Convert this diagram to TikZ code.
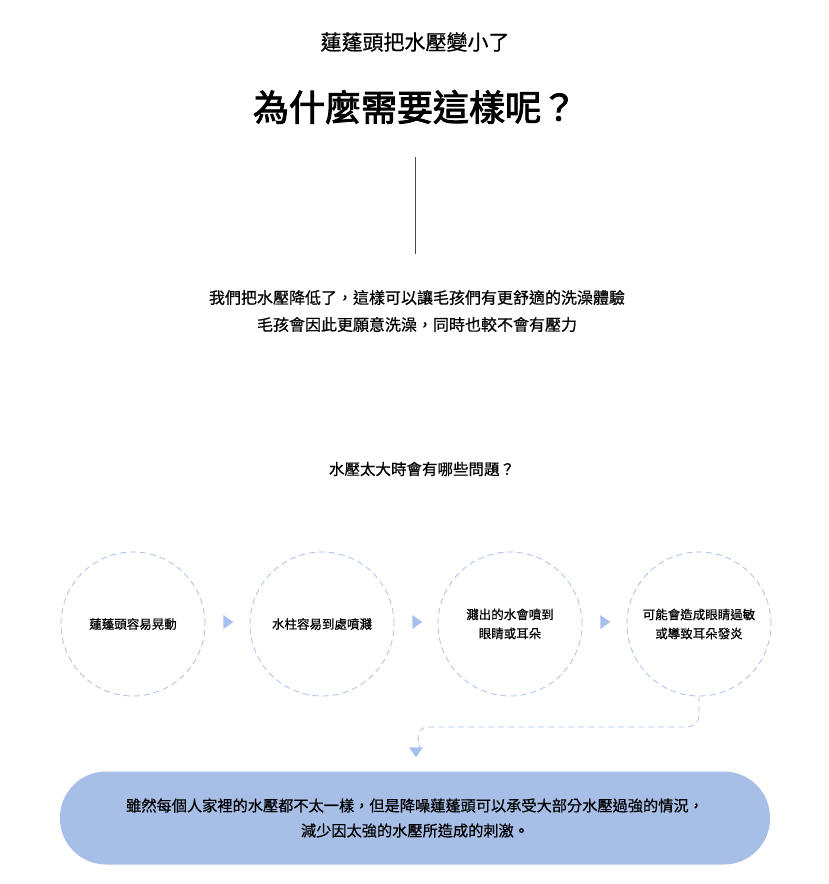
\documentclass[tikz,border=0pt]{standalone}
\usepackage{fontspec}
\setmainfont{Noto Sans CJK TC}[FakeBold=0.6]
\newfontfamily\headfont{Noto Sans CJK TC}[FakeBold=2.5]
\usetikzlibrary{shapes.geometric}
\definecolor{lineblue}{HTML}{A9C0EC}
\definecolor{pillblue}{HTML}{A7BFE7}
\begin{document}
\begin{tikzpicture}[x=1pt,y=-1pt,
  every node/.style={align=center, text=black},
  step circle/.style={circle, draw=lineblue, dash pattern=on 6pt off 4pt, line width=0.8pt, minimum size=144pt, font=\fontsize{12.5}{19}\selectfont},
  tri/.style={isosceles triangle, fill=lineblue, inner sep=0pt, minimum width=12pt, minimum height=10pt, isosceles triangle apex angle=70}]

        \useasboundingbox (0,0) rectangle (829,884);

        \node[font=\fontsize{21}{24}\selectfont] (title) at (415,42) {蓮蓬頭把水壓變小了};
        \node[font=\headfont\fontsize{36}{40}\selectfont] (head) at (415,107) {為什麼需要這樣呢？};
        \draw[gray!60!black, line width=1pt] (415,157) -- (415,254);
        \node[font=\fontsize{16}{27}\selectfont] (intro) at (417,311) {我們把水壓降低了，這樣可以讓毛孩們有更舒適的洗澡體驗\\ 毛孩會因此更願意洗澡，同時也較不會有壓力};
        \node[font=\fontsize{15.5}{18}\selectfont] (q) at (422,469) {水壓太大時會有哪些問題？};

        \node[step circle] (A) at (133,624) {蓮蓬頭容易晃動};
        \node[step circle] (B) at (322,624) {水柱容易到處噴濺};
        \node[step circle] (C) at (510,624) {濺出的水會噴到\\ 眼睛或耳朵};
        \node[step circle] (D) at (699,624) {可能會造成眼睛過敏\\ 或導致耳朵發炎};

        \node[tri] (t1) at (227,622) {};
        \node[tri] (t2) at (416,622) {};
        \node[tri] (t3) at (604,622) {};
        \node[tri, shape border rotate=-90] (t4) at (416,751) {};

        \draw[lineblue, dash pattern=on 6pt off 4pt, line width=0.8pt, rounded corners=12pt] (D.south) -- (699,727) -- (416,727) -- (t4.east);

        \node[fill=pillblue, rounded corners=46pt, minimum width=710pt, minimum height=93pt, font=\fontsize{15.2}{25}\selectfont] (note) at (415,818)
          {雖然每個人家裡的水壓都不太一樣，但是降噪蓮蓬頭可以承受大部分水壓過強的情況，\\ 減少因太強的水壓所造成的刺激。};
\end{tikzpicture}
\end{document}
